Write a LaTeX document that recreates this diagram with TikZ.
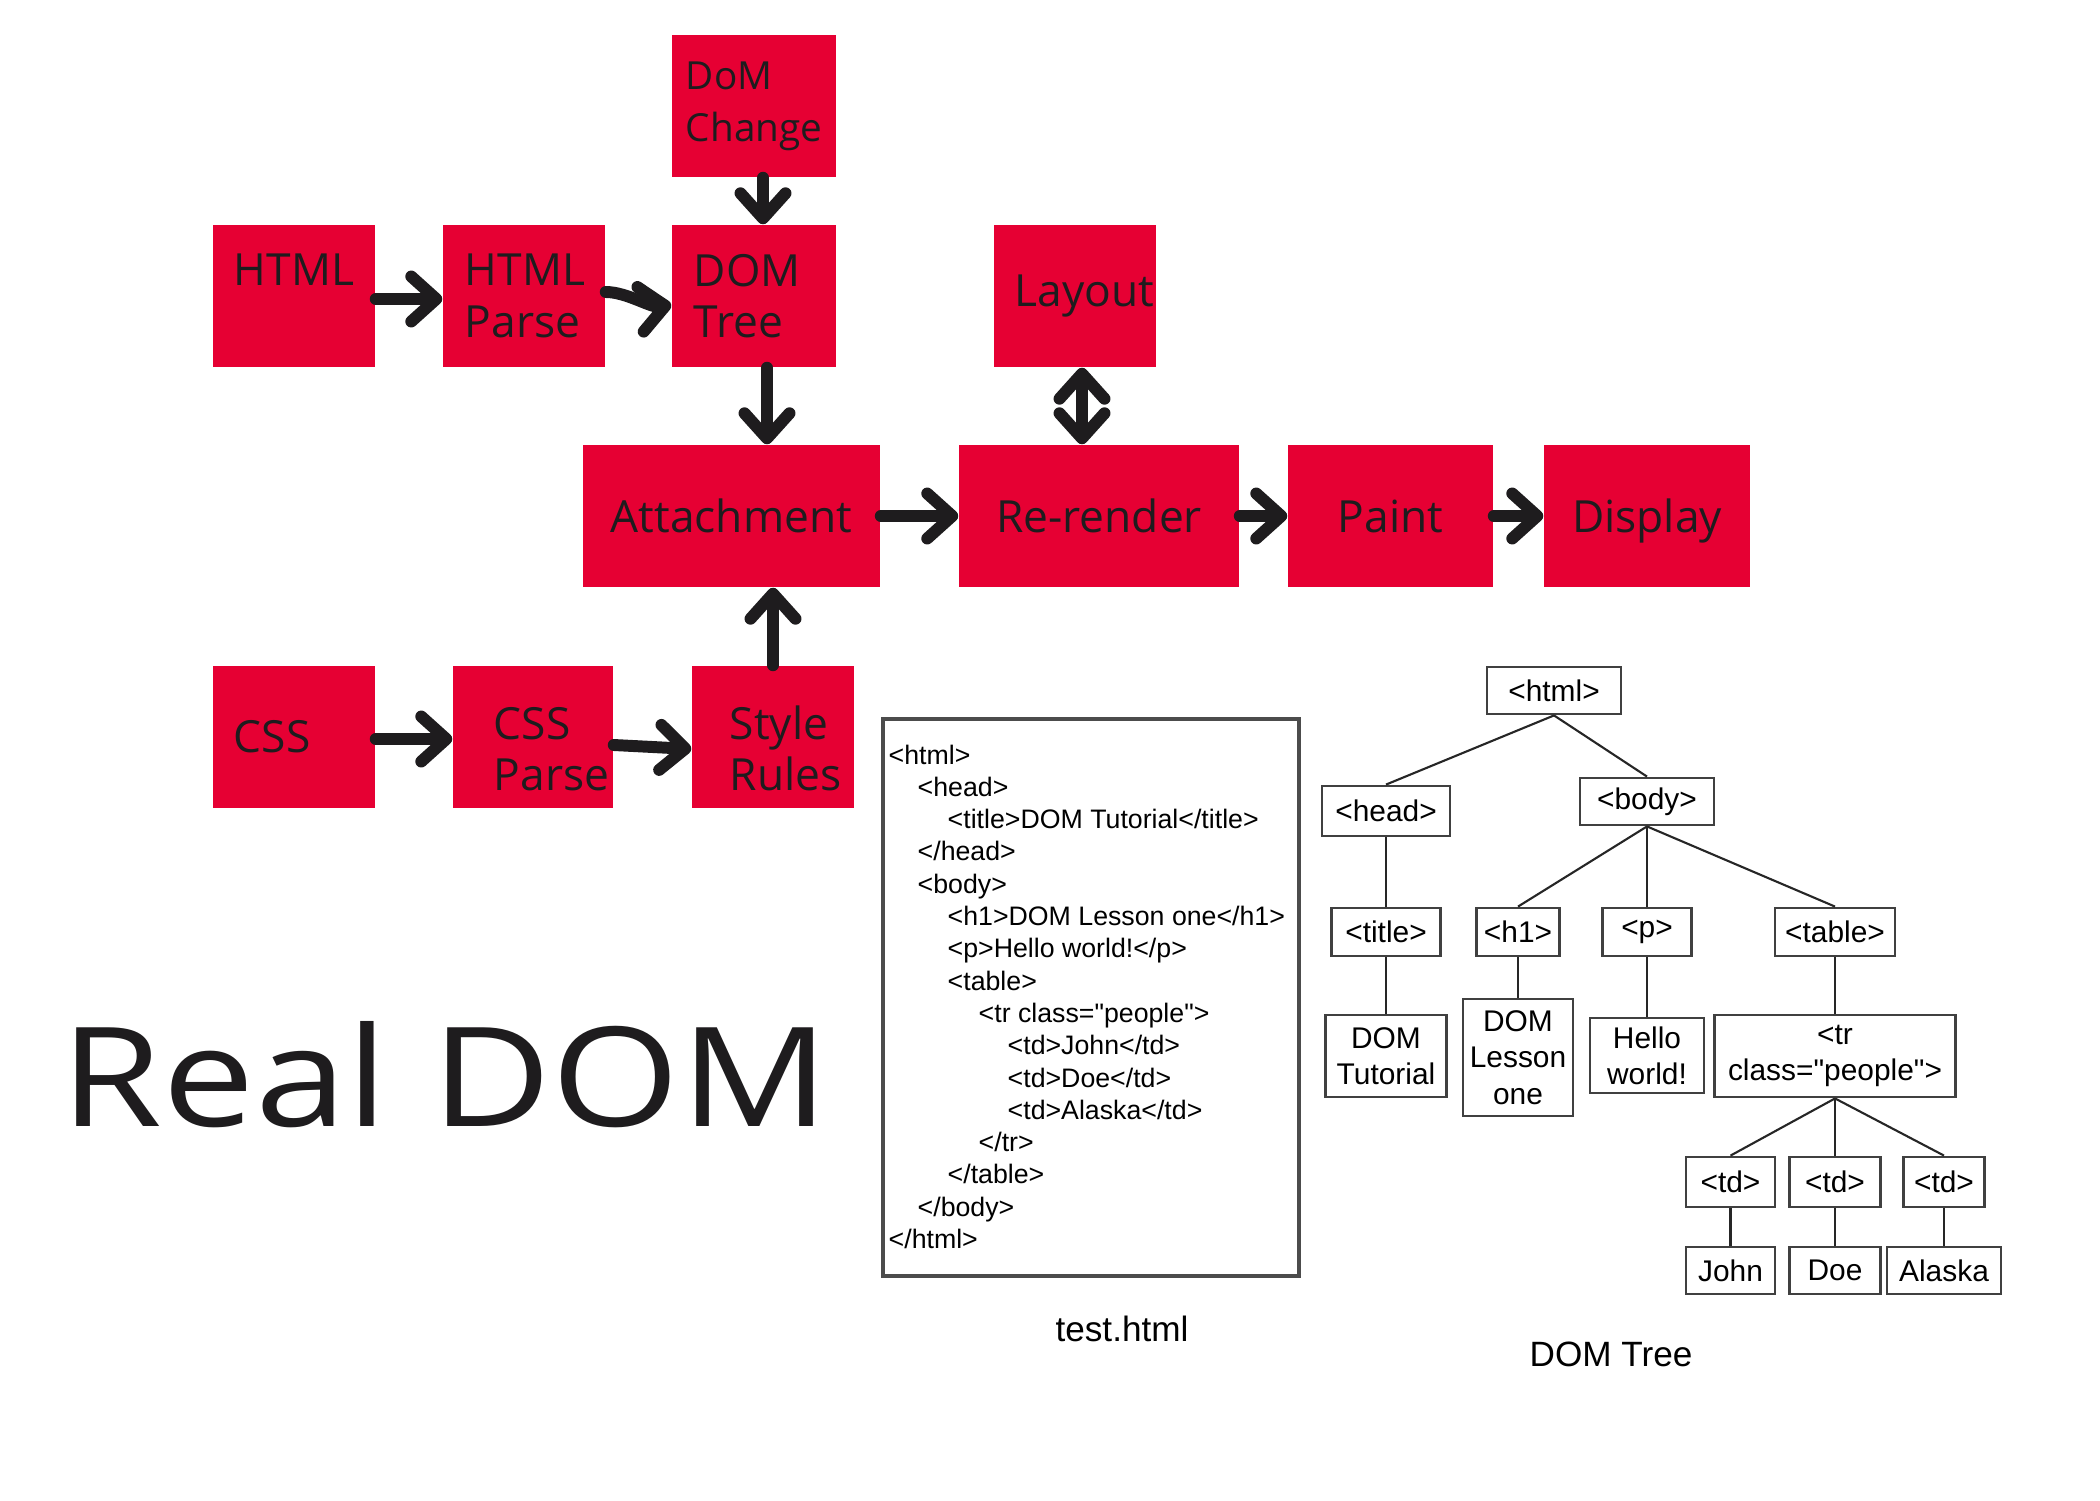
\documentclass[tikz,border=0pt]{standalone}
\usepackage{fontspec}
\usepackage{graphicx}
\usetikzlibrary{arrows.meta,calc}
\newfontfamily\boxfont{Open Sans}
\newfontfamily\arialfont{Liberation Sans}
\definecolor{domred}{RGB}{230,0,51}
\definecolor{ink}{RGB}{30,28,30}
\hyphenpenalty=10000
\exhyphenpenalty=10000
\tikzset{
 redbox/.style={fill=domred, inner sep=0pt, minimum height=1.42cm, align=left, text=ink, font=\boxfont\fontsize{12.6}{14.7}\selectfont},
 arr/.style={draw=ink, line width=3.4pt, line cap=round, -{Straight Barb[length=0.25cm,width=0.45cm,round]}},
 darr/.style={draw=ink, line width=3.4pt, line cap=round, {Straight Barb[length=0.25cm,width=0.45cm,round]}-{Straight Barb[length=0.25cm,width=0.45cm,round]}},
 tbox/.style={draw=black!75, line width=0.8pt, fill=white, inner sep=0pt, align=center, font=\arialfont\fontsize{8.5}{10.3}\selectfont},
 tedge/.style={draw=black!85, line width=0.6pt},
 codeline/.style={anchor=base west, inner sep=0pt, font=\arialfont\fontsize{7.6}{9}\selectfont},
 caption/.style={inner sep=0pt, font=\arialfont\fontsize{10}{12}\selectfont},
}
\begin{document}
\begin{tikzpicture}[x=0.01cm,y=-0.01cm]
\useasboundingbox (0,0) rectangle (2100,1500);

% ---- red pipeline boxes
\node[redbox, text width=1.64cm, font=\boxfont\fontsize{11}{14.7}\selectfont] (dchange) at (754,106) {\hspace*{0.14cm}DoM\\\hspace*{0.14cm}Change};
\node[redbox, text width=1.62cm] (html) at (294,296) {\hspace*{0.21cm}HTML\\\mbox{}};
\node[redbox, text width=1.62cm] (hparse) at (524,296) {\hspace*{0.22cm}HTML\\\hspace*{0.22cm}Parse};
\node[redbox, text width=1.64cm] (dtree) at (754,296) {\hspace*{0.22cm}DOM\\\hspace*{0.22cm}Tree};
\node[redbox, text width=1.62cm] (layout) at (1075,296) {\hspace*{0.21cm}Layout};
\node[redbox, text width=2.97cm, align=center] (attach) at (731.5,516) {Attachment};
\node[redbox, text width=2.80cm, align=center] (rerender) at (1099,516) {Re-render};
\node[redbox, text width=2.05cm, align=center] (paint) at (1390.5,516) {Paint};
\node[redbox, text width=2.06cm, align=center, text depth=0pt] (display) at (1647,516) {Display};
\node[redbox, text width=1.62cm] (css) at (294,737) {\hspace*{0.21cm}CSS};
\node[redbox, text width=1.60cm] (cparse) at (533,737) {\hspace*{0.41cm}\rule{0pt}{16pt}CSS\\\hspace*{0.41cm}Parse};
\node[redbox, text width=1.62cm] (style) at (773,737) {\hspace*{0.38cm}\rule{0pt}{16pt}Style\\\hspace*{0.38cm}Rules};

% ---- arrows
\draw[arr] ($(html.east)+(0,3)$) -- ($(hparse.west)+(0,3)$);
\draw[arr] ($(hparse.east)+(0,-4)$) to[out=0,in=188,looseness=0.8] ($(dtree.west)+(0,9)$);
\draw[arr] ($(dchange.south)+(9,0)$) -- ($(dtree.north)+(9,0)$);
\coordinate (p1) at ($(dtree.south)+(13,0)$);
\draw[arr] (p1) -- (p1 |- attach.north);
\coordinate (p2) at ($(layout.south)+(7,0)$);
\draw[darr] (p2) -- (p2 |- rerender.north);
\draw[arr] (attach.east) -- (rerender.west);
\draw[arr] (rerender.east) -- (paint.west);
\draw[arr] (paint.east) -- (display.west);
\draw[arr] (style.north) -- (style.north |- attach.south);
\draw[arr] ($(css.east)+(0,2)$) -- ($(cparse.west)+(0,2)$);
\draw[arr] ($(cparse.east)+(0,8)$) -- ($(style.west)+(0,12)$);

% ---- title
\node[anchor=south west, inner sep=0pt, text=ink] (title) at (60,1129) {\resizebox{7.68cm}{1.05cm}{\boxfont Real DOM}};

% ---- code listing
\node[draw=black!70, line width=1pt, minimum width=4.16cm, minimum height=5.57cm, inner sep=0pt] (codebox) at (1091,997.5) {};
\foreach \i/\xx/\t in {
 1/888/{<html>},
 2/917/{<head>},
 3/947/{<title>DOM Tutorial</title>},
 4/917/{</head>},
 5/917/{<body>},
 6/947/{<h1>DOM Lesson one</h1>},
 7/947/{<p>Hello world!</p>},
 8/947/{<table>},
 9/978/{<tr class="people">},
 10/1007/{<td>John</td>},
 11/1007/{<td>Doe</td>},
 12/1007/{<td>Alaska</td>},
 13/978/{</tr>},
 14/947/{</table>},
 15/917/{</body>},
 16/888/{</html>}}
 {\node[codeline] (c\i) at (\xx,{764+32.3*(\i-1)}) {\t};}
\node[caption] (capcode) at (1122,1329) {test.html};

% ---- DOM tree
\node[tbox, minimum width=1.34cm, minimum height=0.47cm] (thtml) at (1554,690.5) {<html>};
\node[tbox, minimum width=1.28cm, minimum height=0.50cm] (thead) at (1386,811) {<head>};
\node[tbox, minimum width=1.34cm, minimum height=0.47cm] (tbody) at (1647,801.5) {<body>};
\node[tbox, minimum width=1.09cm, minimum height=0.48cm] (ttitle) at (1386,932) {<title>};
\node[tbox, minimum width=0.83cm, minimum height=0.48cm] (th1) at (1518,932) {<h1>};
\node[tbox, minimum width=0.89cm, minimum height=0.48cm] (tp) at (1647,932) {<p>};
\node[tbox, minimum width=1.20cm, minimum height=0.48cm] (ttable) at (1835,932) {<table>};
\node[tbox, minimum width=1.21cm, minimum height=0.82cm] (ttut) at (1386,1056) {DOM\\Tutorial};
\node[tbox, minimum width=1.10cm, minimum height=1.17cm] (tles) at (1518,1057.5) {DOM\\Lesson\\one};
\node[tbox, minimum width=1.14cm, minimum height=0.75cm] (thello) at (1647,1055.5) {Hello\\world!};
\node[tbox, minimum width=2.41cm, minimum height=0.82cm] (ttr) at (1835,1056) {<tr\\class="people">};
\node[tbox, minimum width=0.89cm, minimum height=0.50cm] (td1) at (1730.5,1182) {<td>};
\node[tbox, minimum width=0.91cm, minimum height=0.50cm] (td2) at (1835,1182) {<td>};
\node[tbox, minimum width=0.81cm, minimum height=0.50cm] (td3) at (1944,1182) {<td>};
\node[tbox, minimum width=0.89cm, minimum height=0.47cm] (tjohn) at (1730.5,1270.5) {John};
\node[tbox, minimum width=0.91cm, minimum height=0.47cm] (tdoe) at (1835,1270.5) {Doe};
\node[tbox, minimum width=1.14cm, minimum height=0.47cm] (talaska) at (1944,1270.5) {Alaska};

\draw[tedge] (thtml.south) -- (thead.north);
\draw[tedge] (thtml.south) -- (tbody.north);
\draw[tedge] (thead.south) -- (ttitle.north);
\draw[tedge] (tbody.south) -- (th1.north);
\draw[tedge] (tbody.south) -- (tp.north);
\draw[tedge] (tbody.south) -- (ttable.north);
\draw[tedge] (ttitle.south) -- (ttut.north);
\draw[tedge] (th1.south) -- (tles.north);
\draw[tedge] (tp.south) -- (thello.north);
\draw[tedge] (ttable.south) -- (ttr.north);
\draw[tedge] (ttr.south) -- (td1.north);
\draw[tedge] (ttr.south) -- (td2.north);
\draw[tedge] (ttr.south) -- (td3.north);
\draw[tedge] (td1.south) -- (tjohn.north);
\draw[tedge] (td2.south) -- (tdoe.north);
\draw[tedge] (td3.south) -- (talaska.north);
\node[caption] (captree) at (1611,1354) {DOM Tree};
\end{tikzpicture}
\end{document}
